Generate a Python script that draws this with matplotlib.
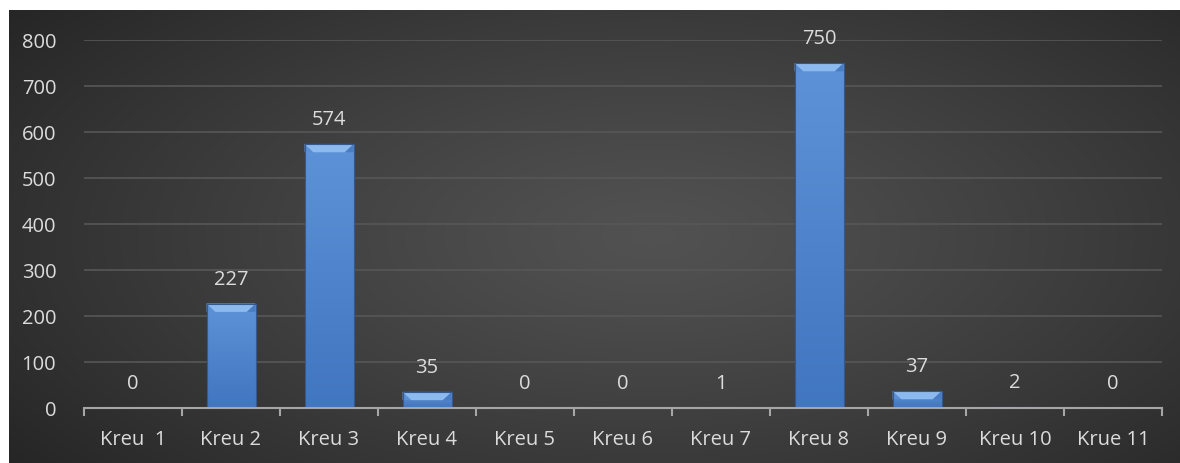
import numpy as np
import matplotlib.pyplot as plt
from matplotlib.patches import Polygon
from matplotlib.colors import LinearSegmentedColormap

categories = ["Kreu  1", "Kreu 2", "Kreu 3", "Kreu 4", "Kreu 5", "Kreu 6",
              "Kreu 7", "Kreu 8", "Kreu 9", "Kreu 10", "Krue 11"]
values = [0, 227, 574, 35, 0, 0, 1, 750, 37, 2, 0]
y_ticks = [0, 100, 200, 300, 400, 500, 600, 700, 800]

plt.rcParams['font.family'] = ['Open Sans', 'DejaVu Sans']
text_color = '#dcdcdc'
fsize = 14.5

fig = plt.figure(figsize=(11.8, 4.64), dpi=100)
fig.patch.set_facecolor('white')

# dark panel with radial gradient
bg = fig.add_axes([9 / 1180, 0, 1 - 9 / 1180, 453 / 464], zorder=0)
yy, xx = np.mgrid[0:1:300j, 0:1:700j]
r = np.sqrt(((xx - 0.55) / 0.75) ** 2 + ((yy - 0.5) / 0.9) ** 2)
r = np.clip(r, 0, 1)
shade = 0.32 - 0.19 * r ** 1.2
bg.imshow(np.dstack([shade] * 3), aspect='auto', extent=[0, 1, 0, 1])
bg.axis('off')

ax = fig.add_axes([84 / 1180, 55 / 464, 1078 / 1180, 368 / 464], zorder=1)
ax.patch.set_alpha(0)

x = np.arange(len(categories))
bars = ax.bar(x, values, width=0.5, color='#4f83cc', edgecolor='#35598f',
              linewidth=0.8, zorder=3)

# vertical gradient inside bars + bevel on top
grad = np.linspace(0, 1, 100).reshape(-1, 1)
cmap = LinearSegmentedColormap.from_list('bar', ['#4176c0', '#5e92d8'])
for b, v in zip(bars, values):
    if v <= 0:
        continue
    bx, bw, bh = b.get_x(), b.get_width(), b.get_height()
    im = ax.imshow(grad, cmap=cmap, extent=[bx, bx + bw, 0, bh],
                   aspect='auto', origin='lower', zorder=3.5)
    im.set_clip_path(b)
    bev = min(bh, 18)
    d = min(0.09, bw / 2)
    ax.add_patch(Polygon([(bx, bh), (bx + d, bh - bev), (bx, bh - bev)],
                         closed=True, facecolor='#5b8fd4', edgecolor='none', zorder=4))
    ax.add_patch(Polygon([(bx + bw, bh), (bx + bw - d, bh - bev), (bx + bw, bh - bev)],
                         closed=True, facecolor='#4a7cc2', edgecolor='none', zorder=4))
    ax.add_patch(Polygon([(bx, bh), (bx + bw, bh), (bx + bw - d, bh - bev), (bx + d, bh - bev)],
                         closed=True, facecolor='#8dbaee', edgecolor='none', zorder=4))
    ax.add_patch(Polygon([(bx, 0), (bx + bw, 0), (bx + bw, bh), (bx, bh)],
                         closed=True, facecolor='none', edgecolor='#35598f',
                         linewidth=0.8, zorder=4.5))

for xi, v in zip(x, values):
    ax.annotate(str(v), (xi, v), xytext=(0, 18), textcoords='offset points',
                ha='center', va='center', color=text_color, fontsize=fsize,
                annotation_clip=False)

ax.set_xlim(-0.5, len(categories) - 0.5)
ax.set_ylim(0, 800)
ax.set_yticks(y_ticks)
ax.set_yticklabels([str(t) for t in y_ticks])
ax.tick_params(axis='y', length=0, pad=20, labelcolor=text_color, labelsize=fsize)
ax.yaxis.grid(True, color='#575757', linewidth=1.2, zorder=1)
ax.set_axisbelow(True)

ax.set_xticks(np.arange(len(categories) + 1) - 0.5, minor=False)
ax.set_xticklabels([])
ax.set_xticks(x, minor=True)
ax.set_xticklabels(categories, minor=True)
ax.tick_params(axis='x', which='major', length=6, width=1.5, color='#a6a6a6', direction='out')
ax.tick_params(axis='x', which='minor', length=0, pad=15, labelcolor=text_color, labelsize=fsize)

for s in ['top', 'right', 'left']:
    ax.spines[s].set_visible(False)
ax.spines['bottom'].set_color('#a6a6a6')
ax.spines['bottom'].set_linewidth(1.5)
ax.spines['bottom'].set_zorder(5)

fig.savefig('out.png', dpi=100)
